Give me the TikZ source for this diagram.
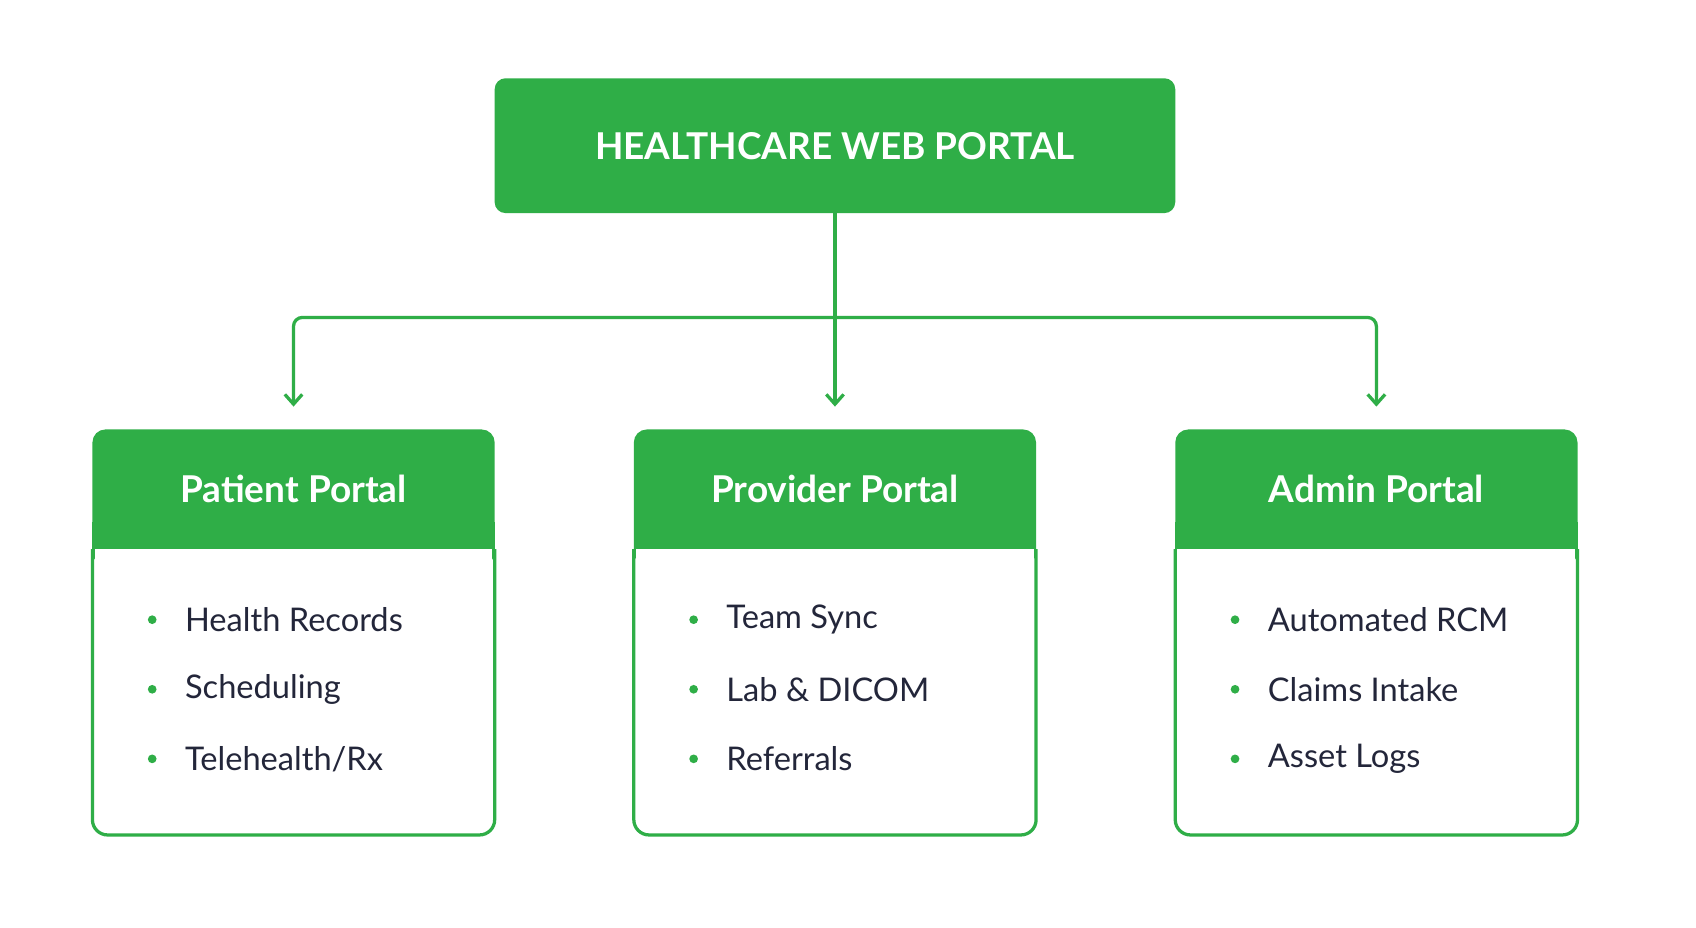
\documentclass[tikz,border=0pt]{standalone}
\usepackage{fontspec}
\setmainfont{Lato}
\usetikzlibrary{arrows.meta}
\definecolor{gr}{HTML}{2FAE47}
\definecolor{ink}{HTML}{23263A}
\begin{document}
\begin{tikzpicture}[x=1pt,y=-1pt,
  conn/.style={draw=gr,line width=3pt,rounded corners=8pt,-{Straight Barb[length=9pt,width=16pt,line width=3pt]}},
  item/.style={anchor=west,text=ink,font=\fontsize{30}{36}\selectfont,inner sep=0pt},
  dot/.style={circle,fill=gr,minimum size=8pt,inner sep=0pt},
  head/.style={text=white,font=\bfseries\fontsize{34}{40}\selectfont}]
\fill[white] (0,0) rectangle (1560,853);
\useasboundingbox (0,0) rectangle (1560,853);
\fill[gr,rounded corners=10pt] (455,72) rectangle (1081,196);
\node[head] (top) at (768,134) {HEALTHCARE WEB PORTAL};
\coordinate (tb) at (768,196);
\coordinate (j) at (768,292);
\foreach \n/\x/\t/\a/\b/\c in {p/270/Patient Portal/Health Records/Scheduling/Telehealth\slash Rx,
  v/768/Provider Portal/Team Sync/Lab \& DICOM/Referrals,
  d/1266/Admin Portal/Automated RCM/Claims Intake/Asset Logs}{
  \fill[gr,rounded corners=12pt] (\x-185,395) rectangle (\x+185,520);
  \fill[gr] (\x-185,480) rectangle (\x+185,505);
  \fill[white,rounded corners=12pt] (\x-183,505) rectangle (\x+183,766);
  \fill[white] (\x-183,505) rectangle (\x+183,530);
  \draw[gr,line width=3pt,rounded corners=14pt] (\x-185,505) -- (\x-185,768) -- (\x+185,768) -- (\x+185,505);
  \node[head] (\n h) at (\x,450) {\t};
  \coordinate (\n t) at (\x,374);
  \node[dot] (\n d1) at (\x-130,570) {};
  \node[dot] (\n d2) at (\x-130,634) {};
  \node[dot] (\n d3) at (\x-130,698) {};
  \node[item] (\n 1) at (\x-100,570) {\a};
  \node[item] (\n 2) at (\x-100,634) {\b};
  \node[item] (\n 3) at (\x-100,698) {\c};
}
\draw[gr,line width=3pt] (tb) -- (j);
\draw[conn] (j) -- (270,292) -- (pt);
\draw[conn] (j) -- (1266,292) -- (dt);
\draw[conn] (j) -- (vt);
\end{tikzpicture}
\end{document}
